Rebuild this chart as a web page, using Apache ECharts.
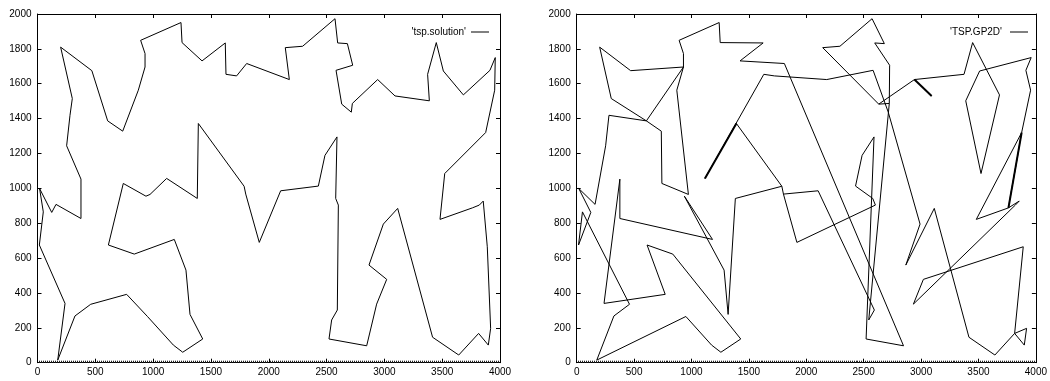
<!DOCTYPE html>
<html><head><meta charset="utf-8">
<script src="https://cdn.jsdelivr.net/npm/echarts@6/dist/echarts.min.js"></script>
<style>html,body{margin:0;padding:0;background:#fff}#c{width:1050px;height:381px}</style>
</head><body><div id="c"></div>
<script>
// City coordinates (index = position in the tsp.solution tour)
const cityX = [18,123,160,376,376,252,281,301,200,470,607,737,872,930,930,892,1241,1250,1423,1624,1630,1722,1809,2178,2143,2293,2573,2596,2680,2726,2582,2631,2714,2723,2942,3092,3389,3374,3449,3510,3683,3913,3959,3954,3876,3522,3481,3761,3821,3855,3890,3919,3899,3815,3643,3417,3115,2991,2867,3020,2933,2847,2521,2544,2593,2602,2579,2590,2486,2429,2103,1918,1801,1787,1391,1382,1117,973,938,742,613,837,1183,1284,1319,1429,1256,1175,951,771,460,324,175,238,16,50];
const cityY = [999,862,908,827,1053,1244,1419,1515,1810,1675,1387,1328,1563,1696,1773,1849,1951,1836,1731,1834,1654,1645,1716,1624,1807,1815,1973,1834,1830,1706,1677,1483,1437,1487,1624,1530,1502,1654,1836,1673,1536,1677,1750,1563,1320,1085,822,888,904,927,665,197,101,168,44,146,885,795,560,478,336,97,136,245,302,904,942,1295,1189,1013,986,690,967,1012,1372,942,1057,965,955,1028,675,623,707,531,277,136,60,101,265,392,335,268,15,340,675,865];

// tour of 'tsp.solution' (closed)
const solutionOrder = cityX.map((_, i) => i).concat([0]);

// polylines of 'TSP.GP2D'
const gpPaths = [
  [35,34,37,38,40,45,36,39,42,41,43,44,47],
  [34,31,24,25,26,28,27,29,33,31],
  [33,63,64,70,72,71,65,66,69,68,67,62,61,22,18,19,17,16,15,14,13,12,77,79,11,10,6,5,2,0,1,94,95,90,91,92,88,87,86,85,81,80,89,93,4,3,82,78,83,84,75,73,74,76,20,21,23,30,32,57,58,56,55,54,53,52,51,53,50,59,60,48,49,47,46],
  [10,13,9,8,7,10],
  [73,72],
  [44,46]
];
const gpHeavy = [[34,35],[44,47],[76,74]];

const xTicks = {min: 0, max: 4000, step: 500};
const yTicks = {min: 0, max: 2000, step: 200};

const FONT = '"Liberation Sans", Arial, Helvetica, sans-serif';
const pts = idx => idx.map(i => [cityX[i], cityY[i]]);
const plain = v => String(v);

function xAxes(g) {
  const base = {gridIndex: g, type: 'value', min: xTicks.min, max: xTicks.max, interval: xTicks.step,
    splitLine: {show: false}, axisLine: {show: true, onZero: false, lineStyle: {color: '#000', width: 1}},
    axisTick: {show: true, inside: true, length: 4, lineStyle: {color: '#000', width: 1}}};
  return [
    Object.assign({}, base, {position: 'bottom',
      minorTick: {show: true, splitNumber: 29, length: 2, lineStyle: {color: '#222', width: 1}},
      axisLabel: {show: true, color: '#000', fontSize: 10, fontFamily: FONT, margin: 5, formatter: plain}}),
    Object.assign({}, base, {position: 'top', axisLabel: {show: false}})
  ];
}
function yAxes(g) {
  const base = {gridIndex: g, type: 'value', min: yTicks.min, max: yTicks.max, interval: yTicks.step,
    splitLine: {show: false}, axisLine: {show: true, onZero: false, lineStyle: {color: '#000', width: 1}},
    axisTick: {show: true, inside: true, length: 4, lineStyle: {color: '#000', width: 1}}};
  return [
    Object.assign({}, base, {position: 'left', axisLabel: {show: true, color: '#000', fontSize: 10, fontFamily: FONT, margin: 6, formatter: plain}}),
    Object.assign({}, base, {position: 'right', axisLabel: {show: false}})
  ];
}

const lineBase = {type: 'line', symbol: 'none', showSymbol: false, silent: true, animation: false,
  color: '#000', lineStyle: {color: '#000', width: 1}};

const series = [];
series.push(Object.assign({}, lineBase, {name: "'tsp.solution'", xAxisIndex: 0, yAxisIndex: 0, data: pts(solutionOrder)}));
gpPaths.forEach(p => series.push(Object.assign({}, lineBase, {name: "'TSP.GP2D'", xAxisIndex: 2, yAxisIndex: 2, data: pts(p)})));
gpHeavy.forEach(p => series.push(Object.assign({}, lineBase, {name: "'TSP.GP2D'", xAxisIndex: 2, yAxisIndex: 2, data: pts(p), lineStyle: {color: '#000', width: 2}})));

const legendBase = {orient: 'horizontal', align: 'right', icon: 'rect', itemWidth: 18, itemHeight: 1, itemGap: 0,
  top: 22, selectedMode: false};

const chart = echarts.init(document.getElementById('c'), null, {renderer: 'canvas'});
chart.setOption({
  animation: false,
  backgroundColor: '#fff',
  grid: [
    {left: 37.5, right: 550, top: 14, bottom: 18.3},
    {left: 576.7, right: 10.7, top: 14, bottom: 18.3}
  ],
  xAxis: xAxes(0).concat(xAxes(1)),
  yAxis: yAxes(0).concat(yAxes(1)),
  legend: [
    Object.assign({}, legendBase, {data: ["'tsp.solution'"], right: 556,
      textStyle: {color: '#000', fontSize: 10, fontFamily: FONT}}),
    Object.assign({}, legendBase, {data: ["'TSP.GP2D'"], right: 17,
      textStyle: {color: '#000', fontSize: 10, fontFamily: FONT, padding: [0, 3, 0, 0]}})
  ],
  series: series
});
</script></body></html>
